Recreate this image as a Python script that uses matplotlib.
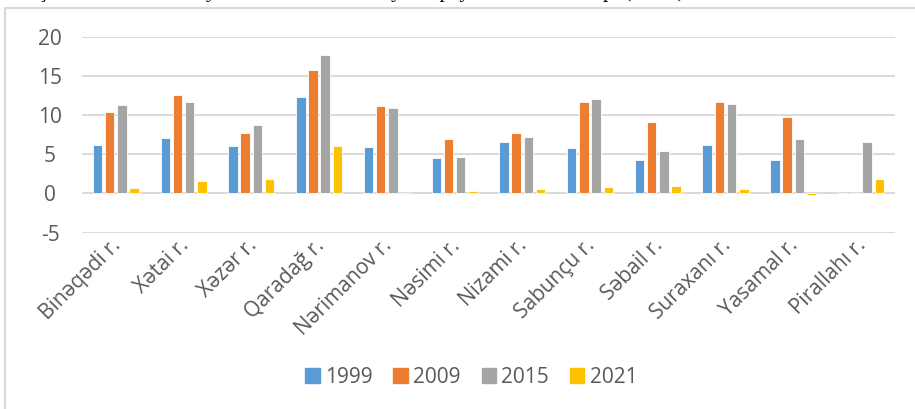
import numpy as np
import matplotlib
matplotlib.use("Agg")
import matplotlib.pyplot as plt
from matplotlib.lines import Line2D

districts = ["Binəqədi r.", "Xətai r.", "Xəzər r.", "Qaradağ r.", "Nərimanov r.",
             "Nəsimi r.", "Nizami r.", "Sabunçu r.", "Səbail r.", "Suraxanı r.",
             "Yasamal r.", "Pirallahı r."]
years = ["1999", "2009", "2015", "2021"]
v1999 = [6.2, 7.1, 6.0, 12.3, 5.9, 4.5, 6.6, 5.8, 4.2, 6.2, 4.3, 0.0]
v2009 = [10.4, 12.6, 7.7, 15.7, 11.1, 7.0, 7.7, 11.7, 9.1, 11.6, 9.8, 0.0]
v2015 = [11.3, 11.7, 8.7, 17.7, 10.9, 4.7, 7.2, 12.0, 5.4, 11.4, 6.9, 6.5]
v2021 = [0.7, 1.6, 1.8, 6.0, -0.1, 0.3, 0.6, 0.8, 1.0, 0.6, -0.2, 1.8]
colors = ["#5B9BD5", "#ED7D31", "#A5A5A5", "#FFC000"]

text_col = "#595959"
grid_col = "#D9D9D9"
font = "Open Sans"
plt.rcParams["axes.unicode_minus"] = False

fig = plt.figure(figsize=(9.15, 4.09), dpi=100)
ax = fig.add_axes([0.0896, 0.4315, 0.8884, 0.4788])

x = np.arange(len(districts))
step = 0.18
width = 0.14
series = [v1999, v2009, v2015, v2021]
for i, vals in enumerate(series):
    ax.bar(x + (i - 1.5) * step, vals, width, color=colors[i],
           edgecolor="white", linewidth=0.6, zorder=3)

ax.set_xlim(-0.5, len(districts) - 0.5)
ax.set_ylim(-5, 20)
ax.set_yticks([-5, 0, 5, 10, 15, 20])
ax.yaxis.grid(True, color=grid_col, linewidth=1.4, zorder=0)
ax.set_axisbelow(True)
for s in ax.spines.values():
    s.set_visible(False)
ax.tick_params(axis="both", length=0, colors=text_col, labelsize=15)
ax.tick_params(axis="y", pad=23)
for lab in ax.get_yticklabels():
    lab.set_fontfamily(font)
    lab.set_horizontalalignment("center")
ax.set_xticks(x - 0.08)
ax.set_xticklabels(districts, rotation=45, ha="right", rotation_mode="anchor",
                   fontfamily=font)
ax.tick_params(axis="x", pad=2)

handles = [plt.Rectangle((0, 0), 1, 1, color=c) for c in colors]
leg = fig.legend(handles, years, loc="center", bbox_to_anchor=(0.515, 0.078),
                 ncol=4, frameon=False, handlelength=0.7, handleheight=0.7,
                 handletextpad=0.25, columnspacing=1.0,
                 prop={"family": font, "size": 15})
for t in leg.get_texts():
    t.set_color(text_col)

# chart area border (only the top and left edges are visible in the crop)
fig.add_artist(Line2D([5 / 915, 5 / 915], [0, 1 - 8 / 409], color=grid_col,
                      linewidth=1.5, transform=fig.transFigure))
fig.add_artist(Line2D([5 / 915, 1], [1 - 8 / 409, 1 - 8 / 409], color=grid_col,
                      linewidth=1.5, transform=fig.transFigure))

# caption of the source document, cut off at the top edge
fig.text(-0.005, 1 + 3 / 409,
         "Bakı şəhərinin inzibati rayonlarında əhalinin sayının payı üzrə artım tempi (faizlə).",
         fontfamily="Liberation Serif", fontsize=15, color="black", va="baseline")

fig.savefig("out.png", dpi=100)
